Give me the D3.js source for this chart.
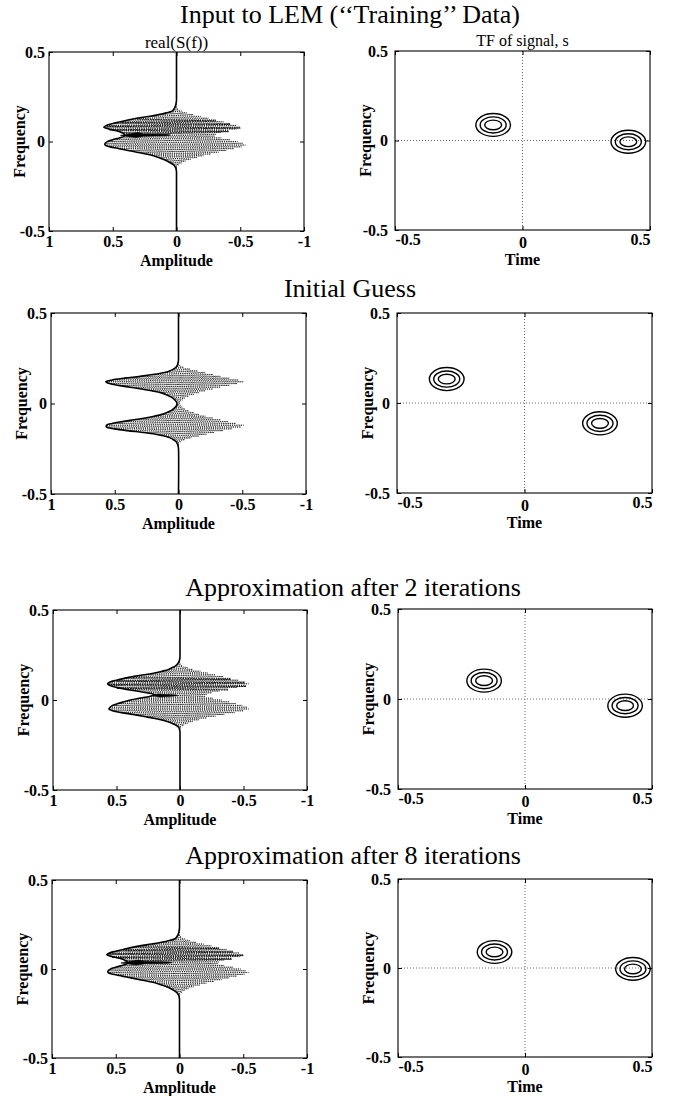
<!DOCTYPE html>
<html><head><meta charset="utf-8">
<script src="https://cdn.jsdelivr.net/npm/d3@7"></script>
<style>
html,body{margin:0;padding:0;background:#fff;}
svg{display:block;}
text{font-family:"Liberation Serif","Times New Roman",serif;fill:#000;}
.tick text{font-size:16px;font-weight:bold;}
.axlabel{font-size:16px;font-weight:bold;}
.title{font-size:26px;}
.sub{font-size:16px;}
</style></head><body>
<svg id="fig" width="675" height="1096"></svg>
<script>
// Frequency samples shared by all spectrum panels (outside this band the spectra are zero)
const freqGrid = [0.25,0.24,0.23,0.22,0.21,0.20,0.19,0.18,0.17,0.16,0.15,0.14,0.13,0.12,0.11,0.10,0.09,0.08,0.07,0.06,0.05,0.04,0.03,0.02,0.01,0,
  -0.01,-0.02,-0.03,-0.04,-0.05,-0.06,-0.07,-0.08,-0.09,-0.10,-0.11,-0.12,-0.13,-0.14,-0.15,-0.16,-0.17,-0.18,-0.19,-0.20,-0.21,-0.22,-0.23,-0.24,-0.25];

// Envelope |S(f)| (solid) and negative extreme of real(S(f)) (dotted) for each stage
const magTrain = [0,0,0,0.002,0.004,0.008,0.013,0.022,0.035,0.08,0.14,0.22,0.31,0.38,0.44,0.50,0.55,0.57,0.53,0.47,0.43,0.41,0.41,0.45,0.50,0.54,
  0.56,0.56,0.52,0.45,0.38,0.31,0.24,0.18,0.14,0.10,0.07,0.045,0.025,0.012,0.005,0.002,0,0,0,0,0,0,0,0,0];
const negTrain = [0,0,0,0,0,0,-0.005,-0.015,-0.04,-0.08,-0.13,-0.19,-0.25,-0.31,-0.37,-0.42,-0.47,-0.50,-0.47,-0.41,-0.35,-0.31,-0.30,-0.35,-0.42,-0.48,
  -0.52,-0.54,-0.51,-0.45,-0.39,-0.33,-0.27,-0.21,-0.16,-0.11,-0.07,-0.04,-0.02,-0.005,0,0,0,0,0,0,0,0,0,0,0];
const wedgeTrain = [[0.44,0.034],[0.30,0.050],[0.26,0.042],[0.08,0.040],[0.05,0.036],[0.08,0.032],[0.26,0.030],[0.32,0.022]];
const darkTrain = [0.13, 0.05];

const magInit = [0,0,0.002,0.005,0.01,0.02,0.04,0.07,0.12,0.20,0.30,0.42,0.52,0.57,0.54,0.47,0.38,0.29,0.21,0.14,0.10,0.07,0.045,0.03,0.018,0.012,
  0.015,0.025,0.04,0.06,0.09,0.13,0.19,0.26,0.35,0.44,0.52,0.565,0.565,0.50,0.40,0.28,0.18,0.11,0.065,0.04,0.02,0.01,0.005,0.002,0];
const negInit = [0,0,0,0,-0.01,-0.04,-0.09,-0.15,-0.21,-0.27,-0.33,-0.40,-0.47,-0.51,-0.46,-0.40,-0.33,-0.27,-0.21,-0.16,-0.12,-0.08,-0.05,-0.03,-0.015,-0.01,
  -0.015,-0.03,-0.05,-0.08,-0.12,-0.16,-0.21,-0.27,-0.33,-0.39,-0.45,-0.51,-0.49,-0.42,-0.35,-0.28,-0.22,-0.16,-0.10,-0.05,-0.02,-0.005,0,0,0];
const wedgeInit = [];
const darkInit = [];

const mag2 = [0,0,0.002,0.005,0.01,0.02,0.035,0.06,0.09,0.14,0.20,0.28,0.37,0.44,0.50,0.55,0.57,0.55,0.50,0.43,0.34,0.26,0.20,0.24,0.32,0.39,
  0.44,0.49,0.53,0.55,0.56,0.53,0.46,0.37,0.29,0.22,0.15,0.10,0.06,0.03,0.012,0.005,0.002,0,0,0,0,0,0,0,0];
const neg2 = [0,0,0,0,0,-0.005,-0.02,-0.06,-0.10,-0.16,-0.22,-0.28,-0.34,-0.40,-0.46,-0.51,-0.54,-0.52,-0.45,-0.38,-0.31,-0.25,-0.21,-0.20,-0.26,-0.33,
  -0.39,-0.44,-0.49,-0.53,-0.54,-0.50,-0.43,-0.35,-0.28,-0.21,-0.15,-0.10,-0.06,-0.03,-0.01,0,0,0,0,0,0,0,0,0,0];
const wedge2 = [[0.22,0.026],[0.17,0.034],[0.12,0.031],[0.03,0.028],[0.02,0.024],[0.10,0.019],[0.16,0.016]];
const dark2 = [0.13, 0.06];

const mag8 = [0,0,0,0.002,0.004,0.008,0.013,0.022,0.035,0.08,0.14,0.22,0.31,0.38,0.44,0.50,0.55,0.57,0.53,0.47,0.43,0.41,0.41,0.45,0.50,0.54,
  0.56,0.56,0.52,0.45,0.38,0.31,0.24,0.18,0.14,0.10,0.07,0.045,0.025,0.012,0.005,0.002,0,0,0,0,0,0,0,0,0];
const neg8 = [0,0,0,0,0,0,-0.005,-0.015,-0.04,-0.08,-0.13,-0.19,-0.25,-0.31,-0.37,-0.42,-0.47,-0.50,-0.47,-0.41,-0.35,-0.31,-0.30,-0.35,-0.42,-0.48,
  -0.52,-0.54,-0.51,-0.45,-0.39,-0.33,-0.27,-0.21,-0.16,-0.11,-0.07,-0.04,-0.02,-0.005,0,0,0,0,0,0,0,0,0,0,0];
const wedge8 = [[0.46,0.034],[0.32,0.050],[0.27,0.042],[0.09,0.040],[0.06,0.036],[0.09,0.032],[0.27,0.030],[0.34,0.022]];
const dark8 = [0.13, 0.05];

// Time-frequency atoms (contour centres) for each stage
const atomTimeTrain = [-0.115, 0.415], atomFreqTrain = [0.087, -0.007];
const atomTimeInit  = [-0.305, 0.296], atomFreqInit  = [0.133, -0.113];
const atomTime2     = [-0.161, 0.394], atomFreq2     = [0.102, -0.037];
const atomTime8     = [-0.120, 0.425], atomFreq8     = [0.090, -0.005];
// Contour half-widths (time) and half-heights (frequency), outer to inner
const contourRx = [0.068, 0.051, 0.033];
const contourRy = [0.064, 0.045, 0.027];

// Axis ticks and texts
const ampTicks = [1, 0.5, 0, -0.5, -1];
const timeTicks = [-0.5, 0, 0.5];
const freqTicks = [-0.5, 0, 0.5];
const rowTitles = ["Input to LEM (\u2018\u2018Training\u2019\u2019 Data)", "Initial Guess",
  "Approximation after 2 iterations", "Approximation after 8 iterations"];

// Page layout for the four rows
const rows = [
  {title: rowTitles[0], tx: 350, ty: 23,
   L: {x0: 49, x1: 304, y0: 52, y1: 231}, R: {x0: 395, x1: 650, y0: 51, y1: 230},
   mag: magTrain, neg: negTrain, wedge: wedgeTrain, dark: darkTrain, at: atomTimeTrain, af: atomFreqTrain,
   subL: "real(S(f))", subR: "TF of signal, s"},
  {title: rowTitles[1], tx: 350, ty: 297,
   L: {x0: 51, x1: 306, y0: 313, y1: 494}, R: {x0: 397, x1: 652, y0: 313, y1: 493},
   mag: magInit, neg: negInit, wedge: wedgeInit, dark: darkInit, at: atomTimeInit, af: atomFreqInit},
  {title: rowTitles[2], tx: 353, ty: 596,
   L: {x0: 53, x1: 307, y0: 610, y1: 790}, R: {x0: 398, x1: 652, y0: 609, y1: 789},
   mag: mag2, neg: neg2, wedge: wedge2, dark: dark2, at: atomTime2, af: atomFreq2},
  {title: rowTitles[3], tx: 353, ty: 864,
   L: {x0: 52, x1: 307, y0: 880, y1: 1058}, R: {x0: 398, x1: 652, y0: 879, y1: 1057},
   mag: mag8, neg: neg8, wedge: wedge8, dark: dark8, at: atomTime8, af: atomFreq8}
];

const svg = d3.select("#fig");
const fmt = d => String(d);

function frame(g, box, x, y, xTicks, yTicks, yPad, xLabel, edgeAnchors) {
  const bottom = g.append("g").attr("transform", `translate(0,${box.y1})`)
    .call(d3.axisBottom(x).tickValues(xTicks).tickSizeInner(-4).tickSizeOuter(0).tickPadding(5).tickFormat(fmt));
  g.append("g").attr("transform", `translate(0,${box.y0})`)
    .call(d3.axisTop(x).tickValues(xTicks).tickSizeInner(-4).tickSizeOuter(0).tickFormat(""));
  g.append("g").attr("transform", `translate(${box.x0},0)`)
    .call(d3.axisLeft(y).tickValues(yTicks).tickSizeInner(-4).tickSizeOuter(0).tickPadding(yPad).tickFormat(fmt));
  g.append("g").attr("transform", `translate(${box.x1},0)`)
    .call(d3.axisRight(y).tickValues(yTicks).tickSizeInner(-4).tickSizeOuter(0).tickFormat(""));
  g.selectAll(".domain").remove();
  g.selectAll(".tick line").attr("stroke", "#000").attr("stroke-width", 1);
  if (edgeAnchors) {
    bottom.selectAll(".tick text")
      .attr("text-anchor", (d, i, n) => i === 0 ? "start" : (i === n.length - 1 ? "end" : "middle"))
      .attr("y", d => d === 0 ? 7 : 4);
  }
  g.append("rect").attr("x", box.x0).attr("y", box.y0)
    .attr("width", box.x1 - box.x0).attr("height", box.y1 - box.y0)
    .attr("fill", "none").attr("stroke", "#000").attr("stroke-width", 1.1);
  g.append("text").attr("class", "axlabel").attr("text-anchor", "middle")
    .attr("x", (box.x0 + box.x1) / 2).attr("y", box.y1 + 35).text(xLabel);
  g.append("text").attr("class", "axlabel").attr("text-anchor", "middle")
    .attr("transform", `translate(${box.x0 - 24},${(box.y0 + box.y1) / 2}) rotate(-90)`).text("Frequency");
}

function drawSpectrum(row) {
  const box = row.L;
  const g = svg.append("g");
  const x = d3.scaleLinear().domain([1, -1]).range([box.x0, box.x1]);
  const y = d3.scaleLinear().domain([-0.5, 0.5]).range([box.y1, box.y0]);

  // real part: rapid oscillation between the two extremes, drawn dotted
  const idx = freqGrid.map((f, i) => i).filter(i => row.mag[i] > 0 || row.neg[i] < 0);
  const zigzag = (list, phase) => list.map((i, k) =>
    [x((k + phase) % 2 === 0 ? row.mag[i] : row.neg[i]), y(freqGrid[i])]);
  [0, 1].forEach(phase => {
    g.append("path").attr("d", d3.line()(zigzag(idx, phase)))
      .attr("fill", "none").attr("stroke", "#000").attr("stroke-width", 0.8)
      .attr("stroke-dasharray", "1,1.2");
  });
  // denser stretch of the oscillation in the upper lobe
  if (row.dark.length) {
    const band = idx.filter(i => freqGrid[i] <= row.dark[0] && freqGrid[i] >= row.dark[1]);
    g.append("path").attr("d", d3.line()(zigzag(band, 0)))
      .attr("fill", "none").attr("stroke", "#000").attr("stroke-width", 0.9)
      .attr("stroke-dasharray", "1.6,1").attr("transform", "translate(0,0.9)");
  }

  if (row.wedge.length) {
    g.append("path").attr("d", d3.line().curve(d3.curveLinearClosed)(row.wedge.map(p => [x(p[0]), y(p[1])])))
      .attr("fill", "#000").attr("stroke", "#000").attr("stroke-width", 0.6);
  }

  // envelope (solid), zero outside the band
  const solid = [[0, 0.5]].concat(freqGrid.map((f, i) => [row.mag[i], f]), [[0, -0.5]]);
  g.append("path")
    .attr("d", d3.line().x(d => x(d[0])).y(d => y(d[1])).curve(d3.curveCatmullRom)(solid))
    .attr("fill", "none").attr("stroke", "#000").attr("stroke-width", 1.6);

  frame(g, box, x, y, ampTicks, freqTicks, 4, "Amplitude", false);
  if (row.subL) {
    g.append("text").attr("class", "sub").attr("text-anchor", "middle").style("font-size", "17px")
      .attr("x", (box.x0 + box.x1) / 2).attr("y", box.y0 - 4).text(row.subL);
  }
}

function drawTF(row) {
  const box = row.R;
  const g = svg.append("g");
  const x = d3.scaleLinear().domain([-0.5, 0.5]).range([box.x0, box.x1]);
  const y = d3.scaleLinear().domain([-0.5, 0.5]).range([box.y1, box.y0]);

  // dotted zero lines
  g.append("line").attr("x1", x(0)).attr("x2", x(0)).attr("y1", box.y0).attr("y2", box.y1)
    .attr("stroke", "#444").attr("stroke-width", 0.8).attr("stroke-dasharray", "1,2");
  g.append("line").attr("x1", box.x0).attr("x2", box.x1).attr("y1", y(0)).attr("y2", y(0))
    .attr("stroke", "#444").attr("stroke-width", 0.8).attr("stroke-dasharray", "1,2");

  row.at.forEach((t, a) => {
    const f = row.af[a];
    contourRx.forEach((rx, k) => {
      g.append("ellipse").attr("cx", x(t)).attr("cy", y(f))
        .attr("rx", x(t + rx) - x(t)).attr("ry", y(f) - y(f + contourRy[k]))
        .attr("fill", "none").attr("stroke", "#000").attr("stroke-width", 1.4);
    });
  });

  frame(g, box, x, y, timeTicks, freqTicks, 7, "Time", true);
  if (row.subR) {
    g.append("text").attr("class", "sub").attr("text-anchor", "middle")
      .attr("x", (box.x0 + box.x1) / 2).attr("y", box.y0 - 5).text(row.subR);
  }
}

rows.forEach(row => {
  svg.append("text").attr("class", "title").attr("text-anchor", "middle")
    .attr("x", row.tx).attr("y", row.ty).text(row.title);
  drawSpectrum(row);
  drawTF(row);
});
</script>
</body></html>
